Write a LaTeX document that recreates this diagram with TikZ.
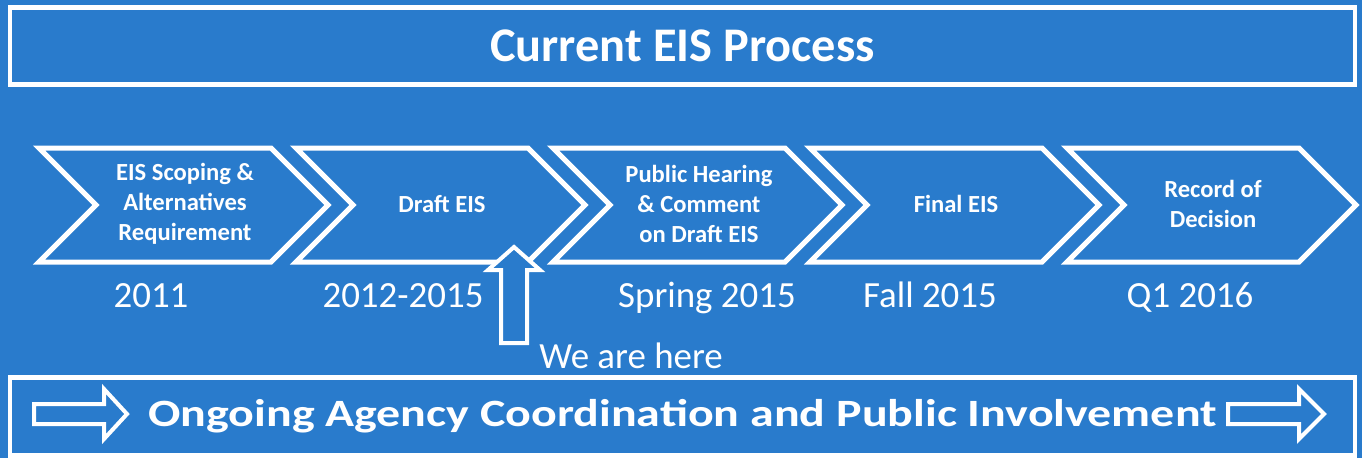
\documentclass[tikz,border=0pt]{standalone}
\usepackage{fontspec}
\setmainfont{Carlito}
\newfontfamily\widefont[FakeStretch=1.24]{Carlito}
\usetikzlibrary{positioning}
\definecolor{eisblue}{RGB}{41,123,204}
\def\stagesep{257}

\begin{document}
\begin{tikzpicture}[x=0.02cm, y=-0.02cm, line join=miter]
        \tikzstyle{banner}=[draw=white, fill=eisblue, line width=0.09cm, inner sep=0pt, text=white, minimum width=26.9cm, text depth=0pt]
        \tikzstyle{chevron}=[draw=white, line width=0.1cm]
        \tikzstyle{stage}=[text=white, align=center, font=\bfseries\fontsize{14}{17}\selectfont]
        \tikzstyle{year}=[text=white, anchor=base, font=\fontsize{21}{24}\selectfont]
        \tikzstyle{fat arrow}=[draw=white, fill=eisblue, line width=0.08cm]

        \fill[eisblue] (0,0) rectangle (1362,458);

        % Draw the title banner
        \node[banner, minimum height=1.54cm, text height=18.1pt, font=\bfseries\fontsize{27.5}{30}\selectfont] (title) at (682.5,46) {Current EIS Process};

        % Draw the stage chevrons
        \foreach \i / \stagetext in {1/{EIS Scoping \&\\Alternatives\\Requirement}, 2/{Draft EIS}, 3/{Public Hearing\\\& Comment\\on Draft EIS}, 4/{Final EIS}, 5/{Record of\\Decision}}
        {
            \draw[chevron] ({39+(\i-1)*\stagesep},148) -- ++(232,0) -- ++(57,57) -- ++(-57,57) -- ++(-232,0) -- ++(57,-57) -- cycle;
            \node[stage] (S-\i) at ({185+(\i-1)*\stagesep},204) {\stagetext};
        }

        % Dates under the stages
        \foreach \i / \x / \year in {1/151/2011, 2/403/2012-2015, 3/707/Spring 2015, 4/930/Fall 2015, 5/1190/Q1 2016}
            \node[year] (Y-\i) at (\x,307) {\year};

        % We are here
        \draw[fat arrow] (501,343) -- (501,270) -- (488,270) -- (514,247) -- (540,270) -- (527,270) -- (527,343) -- cycle;
        \node[year] (here) at (631,368) {We are here};

        % Draw the bottom banner
        \node[banner, minimum height=1.56cm, text height=10.8pt, font=\widefont\bfseries\fontsize{22}{26}\selectfont] (ongoing) at (682.5,416.5) {Ongoing Agency Coordination and Public Involvement};
        \draw[fat arrow] (34,404) -- (104,404) -- (104,389) -- (127,414) -- (104,439) -- (104,424) -- (34,424) -- cycle;
        \draw[fat arrow] (1228,404) -- (1299,404) -- (1299,389) -- (1324,414) -- (1299,439) -- (1299,424) -- (1228,424) -- cycle;

\end{tikzpicture}
\end{document}
